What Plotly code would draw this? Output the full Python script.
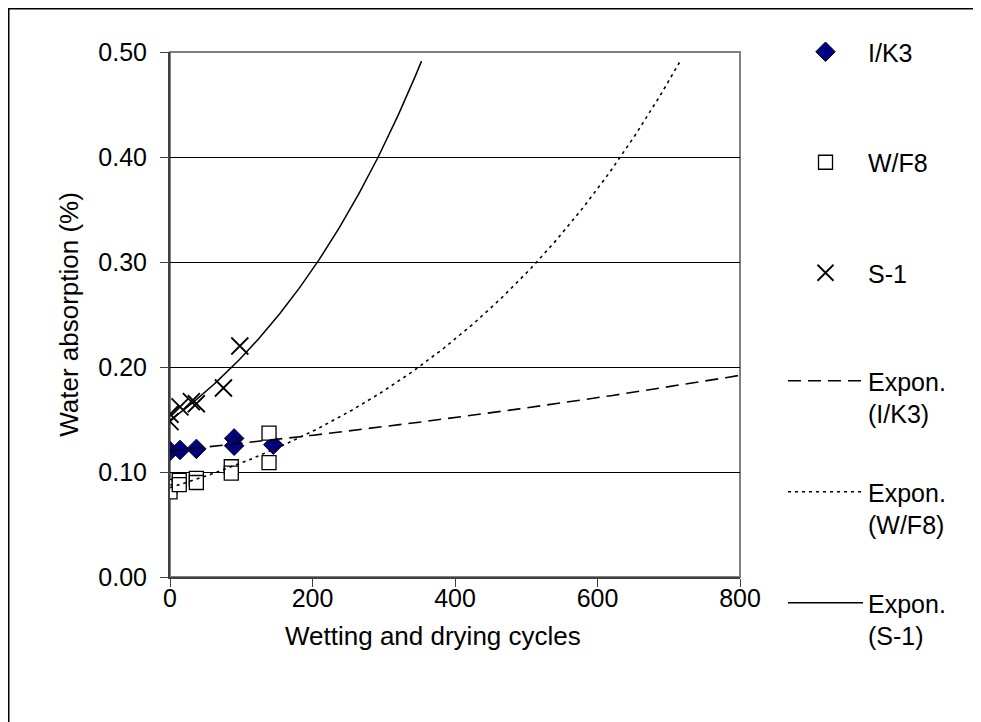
import numpy as np
import plotly.graph_objects as go

# ---- data ----
ik3_x = [0, 14, 37, 90, 90, 145]
ik3_y = [0.120, 0.121, 0.122, 0.132, 0.125, 0.126]

wf8_x = [0, 0, 13, 13, 37, 37, 86, 86, 139, 139]
wf8_y = [0.086, 0.081, 0.092, 0.088, 0.094, 0.090, 0.105, 0.099, 0.137, 0.109]

s1_x = [0, 0, 14, 30, 37, 75, 98]
s1_y = [0.155, 0.148, 0.162, 0.167, 0.165, 0.180, 0.220]

# exponential trendline coefficients (y = a * exp(b * x)) and extent
ik3_trend = dict(a=0.120, b=0.000588, xmax=800)
wf8_trend = dict(a=0.085, b=0.00245, xmax=715)
s1_trend = dict(a=0.149, b=0.00338, xmax=353)

x_ticks = [0, 200, 400, 600, 800]
y_ticks = [0.0, 0.1, 0.2, 0.3, 0.4, 0.5]
y_tick_labels = ["0.00", "0.10", "0.20", "0.30", "0.40", "0.50"]

FONT = "Liberation Sans, Arial, sans-serif"
OFF = 8  # page body margin


def trend(p):
    xs = np.linspace(0, p["xmax"], 200)
    return xs, p["a"] * np.exp(p["b"] * xs)


fig = go.Figure()

fig.add_trace(go.Scatter(
    x=ik3_x, y=ik3_y, mode="markers", name="I/K3", legend="legend",
    marker=dict(symbol="diamond", size=15, color="#000080",
                line=dict(color="black", width=1)),
    legendgroup="a"))
fig.add_trace(go.Scatter(
    x=wf8_x, y=wf8_y, mode="markers", name="W/F8", legend="legend",
    marker=dict(symbol="square", size=14, color="white",
                line=dict(color="black", width=1.3)),
    legendgroup="b"))
fig.add_trace(go.Scatter(
    x=s1_x, y=s1_y, mode="markers", name="S-1", legend="legend",
    marker=dict(symbol="x-thin", size=17, color="black",
                line=dict(color="black", width=1.8)),
    legendgroup="c"))

tx, ty = trend(ik3_trend)
fig.add_trace(go.Scatter(
    x=tx, y=ty, mode="lines", name="Expon.<br>(I/K3)", legend="legend2",
    line=dict(color="black", width=1.6, dash="13px,7px"), legendgroup="d"))
tx, ty = trend(wf8_trend)
fig.add_trace(go.Scatter(
    x=tx, y=ty, mode="lines", name="Expon.<br>(W/F8)", legend="legend2",
    line=dict(color="black", width=1.6, dash="3px,4px"), legendgroup="e"))
tx, ty = trend(s1_trend)
fig.add_trace(go.Scatter(
    x=tx, y=ty, mode="lines", name="Expon.<br>(S-1)", legend="legend2",
    line=dict(color="black", width=1.5), legendgroup="f"))

# plot area on screen: x 170..740, y 52..577 ; figure is offset by body margin
FW, FH = 981 - OFF, 722 - OFF
PL, PR, PT, PB = 170 - OFF, 740 - OFF, 52 - OFF, 577 - OFF
W, H = PR - PL, PB - PT


def px_x(screen):
    return (screen - OFF - PL) / W


def px_y(screen):
    return (PB - (screen - OFF)) / H


fig.update_layout(
    width=FW, height=FH,
    margin=dict(l=PL, r=FW - PR, t=PT, b=FH - PB, pad=0),
    paper_bgcolor="white", plot_bgcolor="white",
    font=dict(family=FONT, size=25, color="black"),
    showlegend=True,
    legend=dict(
        x=px_x(783), y=px_y(29), xanchor="left", yanchor="top",
        bgcolor="rgba(0,0,0,0)", borderwidth=0,
        font=dict(size=25, family=FONT), tracegroupgap=75,
        itemwidth=75, traceorder="grouped", valign="middle"),
    legend2=dict(
        x=px_x(783), y=px_y(358), xanchor="left", yanchor="top",
        bgcolor="rgba(0,0,0,0)", borderwidth=0,
        font=dict(size=25, family=FONT), tracegroupgap=43,
        itemwidth=75, traceorder="grouped", valign="top"),
    shapes=[
        # plot-area border (gray)
        dict(type="rect", xref="paper", yref="paper", x0=0, x1=1, y0=0, y1=1,
             line=dict(color="#808080", width=2), layer="below"),
        # outer chart border
        dict(type="rect", xref="paper", yref="paper",
             x0=px_x(8.5), x1=px_x(1000), y0=px_y(760), y1=px_y(8.5),
             line=dict(color="black", width=2), layer="below"),
    ],
    annotations=[
        dict(text="Wetting and drying cycles", xref="paper", yref="paper",
             x=px_x(433), y=px_y(636), xanchor="center", yanchor="middle",
             showarrow=False, font=dict(size=26, family=FONT, color="black")),
    ],
)

fig.update_xaxes(
    range=[0, 800], tickvals=x_ticks, ticktext=[str(v) for v in x_ticks],
    showgrid=False, zeroline=False,
    showline=True, linecolor="#404040", linewidth=2,
    ticks="outside", ticklen=8, tickcolor="#404040", tickwidth=1,
    tickfont=dict(size=25, family=FONT), ticklabelstandoff=-10,
)
fig.update_yaxes(
    range=[0, 0.5], tickvals=y_ticks, ticktext=y_tick_labels,
    showgrid=True, gridcolor="black", gridwidth=1, zeroline=False,
    showline=True, linecolor="#404040", linewidth=2,
    ticks="outside", ticklen=8, tickcolor="#404040", tickwidth=1,
    tickfont=dict(size=25, family=FONT), ticklabelstandoff=8,
    title=dict(text="Water absorption (%)", font=dict(size=26, family=FONT), standoff=12),
)

fig.write_html("out.html")
